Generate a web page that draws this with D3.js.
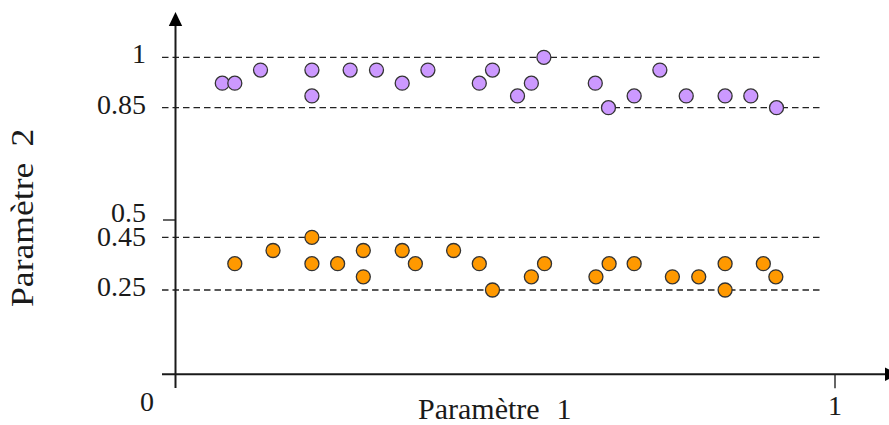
<!DOCTYPE html>
<html>
<head>
<meta charset="utf-8">
<script src="https://cdn.jsdelivr.net/npm/d3@7"></script>
<style>
  html, body { margin: 0; padding: 0; background: #fff; }
  svg { display: block; }
  text { font-family: "Liberation Serif", "Times New Roman", serif; fill: #1a1a1a; }
</style>
</head>
<body>
<svg id="chart" width="889" height="425"></svg>
<script>
// ---- data ----
const purpleX = [0.071, 0.090, 0.129, 0.207, 0.207, 0.265, 0.305, 0.344, 0.383, 0.461, 0.481,
                 0.519, 0.540, 0.559, 0.637, 0.657, 0.696, 0.735, 0.775, 0.834, 0.873, 0.912];
const purpleY = [0.923, 0.923, 0.962, 0.962, 0.885, 0.962, 0.962, 0.923, 0.962, 0.923, 0.962,
                 0.885, 0.923, 1.000, 0.923, 0.850, 0.885, 0.962, 0.885, 0.885, 0.885, 0.850];
const orangeX = [0.090, 0.148, 0.207, 0.207, 0.246, 0.285, 0.285, 0.344, 0.364, 0.422, 0.461,
                 0.481, 0.540, 0.560, 0.638, 0.658, 0.696, 0.754, 0.794, 0.834, 0.834, 0.892, 0.911];
const orangeY = [0.35, 0.40, 0.45, 0.35, 0.35, 0.40, 0.30, 0.40, 0.35, 0.40, 0.35,
                 0.25, 0.30, 0.35, 0.30, 0.35, 0.35, 0.30, 0.30, 0.35, 0.25, 0.35, 0.30];
const yTickValues = [1, 0.85, 0.5, 0.45, 0.25];
const yTickLabels = ["1", "0.85", "0.5", "0.45", "0.25"];
const dashedValues = [1, 0.85, 0.45, 0.25];
const xTickValues = [1];
const xTickLabels = ["1"];
const xTitle = "Paramètre";
const xTitleNum = "1";
const yTitle = "Paramètre";
const yTitleNum = "2";

// ---- styles / layout ----
const purpleFill = "#CC99FF";
const orangeFill = "#FF9900";
const markStroke = "#333333";
const axisColor = "#1a1a1a";
const svg = d3.select("#chart");

// x: linear; y: schematic piecewise-linear axis (as in the original drawing)
const x = d3.scaleLinear().domain([0, 1]).range([175.5, 834.5]);
const y = d3.scaleLinear()
  .domain([0, 0.25, 0.45, 0.5, 0.85, 1])
  .range([374.3, 290, 237.3, 220, 107.7, 57.3]);

// dashed reference lines
svg.append("g").selectAll("line").data(dashedValues).join("line")
  .attr("x1", 162).attr("x2", 822)
  .attr("y1", d => y(d)).attr("y2", d => y(d))
  .attr("stroke", "#222").attr("stroke-width", 1.3)
  .attr("stroke-dasharray", "6.5,4");

// y axis (labels)
const labelOffset = {1: 5.4, 0.85: 5.3, 0.5: 1.2, 0.45: 7.9, 0.25: 5};
const yAxis = d3.axisLeft(y).tickValues(yTickValues).tickSize(0).tickPadding(29.5)
  .tickFormat((d, i) => yTickLabels[i]);
const gy = svg.append("g").attr("transform", "translate(175.5,0)").call(yAxis);
gy.select(".domain").remove();
gy.selectAll("text")
  .attr("dy", d => labelOffset[d] + "px")
  .style("font-size", "28px")
  .style("font-family", "'Liberation Serif', serif")
  .attr("fill", "#1a1a1a");

// x axis (tick at 1)
const xAxis = d3.axisBottom(x).tickValues(xTickValues).tickSize(14).tickPadding(10)
  .tickFormat((d, i) => xTickLabels[i]);
const gx = svg.append("g").attr("transform", "translate(0,374.3)").call(xAxis);
gx.select(".domain").remove();
gx.selectAll(".tick line").attr("stroke", "#333").attr("stroke-width", 1.5);
gx.selectAll("text")
  .attr("dy", null).attr("y", 41)
  .style("font-size", "28px")
  .style("font-family", "'Liberation Serif', serif")
  .attr("fill", "#1a1a1a");

// y-axis 0.5 tick mark
svg.append("line")
  .attr("x1", 163).attr("x2", x(0)).attr("y1", y(0.5)).attr("y2", y(0.5))
  .attr("stroke", "#333").attr("stroke-width", 1.5);

// main axis lines
svg.append("line")
  .attr("x1", 162).attr("x2", 886).attr("y1", y(0)).attr("y2", y(0))
  .attr("stroke", axisColor).attr("stroke-width", 2);
svg.append("line")
  .attr("x1", x(0)).attr("x2", x(0)).attr("y1", 388).attr("y2", 24)
  .attr("stroke", axisColor).attr("stroke-width", 2);
// arrow heads
svg.append("path")
  .attr("d", `M${x(0)},12 L${x(0) - 6.7},26 L${x(0) + 6.7},26 Z`)
  .attr("fill", "#000");
svg.append("path")
  .attr("d", `M899,${y(0)} L885,${y(0) - 6.7} L885,${y(0) + 6.7} Z`)
  .attr("fill", "#000");

// origin label
svg.append("text").attr("x", 147).attr("y", 411)
  .attr("text-anchor", "middle").style("font-size", "28px").text("0");

// markers
function drawSeries(xs, ys, fill) {
  svg.append("g").selectAll("circle").data(xs.map((d, i) => [d, ys[i]])).join("circle")
    .attr("cx", d => x(d[0])).attr("cy", d => y(d[1])).attr("r", 7)
    .attr("fill", fill).attr("stroke", markStroke).attr("stroke-width", 1.3);
}
drawSeries(purpleX, purpleY, purpleFill);
drawSeries(orangeX, orangeY, orangeFill);

// axis titles
const xt = svg.append("text").attr("x", 418).attr("y", 418.5).style("font-size", "30px");
xt.append("tspan").text(xTitle);
xt.append("tspan").attr("dx", 17).text(xTitleNum);

const yt = svg.append("text")
  .attr("transform", "translate(33,307) rotate(-90) scale(1.15,1)")
  .style("font-size", "31px");
yt.append("tspan").text(yTitle);
yt.append("tspan").attr("dx", 14).text(yTitleNum);
</script>
</body>
</html>
